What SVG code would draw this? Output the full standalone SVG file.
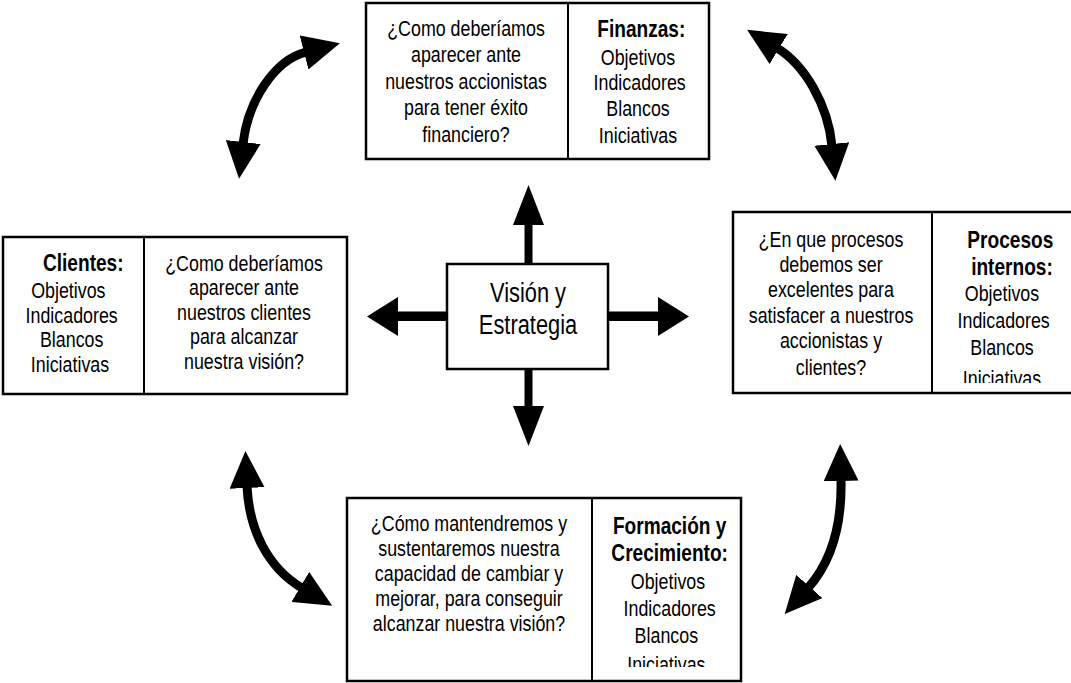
<svg xmlns="http://www.w3.org/2000/svg" width="1071" height="683" viewBox="0 0 1071 683">
  <style>
    .box { fill: #ffffff; stroke: #000000; stroke-width: 2.5; }
    .div { stroke: #000000; stroke-width: 2; }
    .t { font-family: "Liberation Sans", Arial, Helvetica, sans-serif; font-size: 21.5px; fill: #000000; text-anchor: middle; }
    .h { font-family: "Liberation Sans", Arial, Helvetica, sans-serif; font-size: 23px; font-weight: bold; fill: #000000; text-anchor: middle; }
    .c { font-family: "Liberation Sans", Arial, Helvetica, sans-serif; font-size: 28px; fill: #000000; text-anchor: middle; }
    .curve { fill: none; stroke: #000000; stroke-width: 9; stroke-linecap: butt; }
    .shaft { stroke: #000000; stroke-width: 8; }
    .head { fill: #000000; }
  </style>
  <defs>
    <marker id="tip" markerUnits="userSpaceOnUse" viewBox="0 0 37 35" markerWidth="37" markerHeight="35" refX="2" refY="17.5" orient="auto-start-reverse">
      <path d="M0,0 L37,17.5 L0,35 Z" fill="#000000"/>
    </marker>
    <clipPath id="clipProc"><rect x="933" y="214" width="140" height="169"/></clipPath>
    <clipPath id="clipForm"><rect x="593" y="499" width="150" height="168"/></clipPath>
  </defs>

  <!-- curved two-way arrows between the four perspectives -->
  <g id="connectors">
    <path class="curve" d="M243,144 C248,100 275,60 306,52" marker-start="url(#tip)" marker-end="url(#tip)"/>
    <path class="curve" d="M777,48 C805,65 828,105 832,146" marker-start="url(#tip)" marker-end="url(#tip)"/>
    <path class="curve" d="M247,486 C249,530 268,568 302,588" marker-start="url(#tip)" marker-end="url(#tip)"/>
    <path class="curve" d="M841,479 C842,520 833,560 808,588" marker-start="url(#tip)" marker-end="url(#tip)"/>

    <!-- straight arrows out of the centre box -->
    <line class="shaft" x1="528.5" y1="264" x2="528.5" y2="222"/>
    <polygon class="head" points="513,225 544,225 528.5,185"/>
    <line class="shaft" x1="528.5" y1="369" x2="528.5" y2="410"/>
    <polygon class="head" points="513,406 544,406 528.5,446"/>
    <rect class="head" x="395" y="311.5" width="53" height="9.5"/>
    <polygon class="head" points="398,297 398,336 367,316.5"/>
    <rect class="head" x="608" y="311.5" width="53" height="9.5"/>
    <polygon class="head" points="658,297 658,336 689,316.5"/>
  </g>

  <!-- Finanzas -->
  <g id="finanzas">
    <rect class="box" x="366" y="3" width="343" height="156"/>
    <line class="div" x1="568" y1="3" x2="568" y2="159"/>
    <g transform="translate(466 0) scale(0.83 1)">
      <text class="t" x="0" y="36">¿Como deberíamos</text>
      <text class="t" x="0" y="62.5">aparecer ante</text>
      <text class="t" x="0" y="89">nuestros accionistas</text>
      <text class="t" x="0" y="115.5">para tener éxito</text>
      <text class="t" x="0" y="142">financiero?</text>
    </g>
    <g transform="translate(638 0) scale(0.83 1)">
      <text class="h" x="4" y="37">Finanzas:</text>
      <text class="t" x="0" y="65">Objetivos</text>
      <text class="t" x="2" y="90">Indicadores</text>
      <text class="t" x="0" y="116">Blancos</text>
      <text class="t" x="0" y="143">Iniciativas</text>
    </g>
  </g>

  <!-- Clientes -->
  <g id="clientes">
    <rect class="box" x="3" y="237" width="344" height="157"/>
    <line class="div" x1="144" y1="237" x2="144" y2="394"/>
    <g transform="translate(70 0) scale(0.83 1)">
      <text class="h" x="16" y="271">Clientes:</text>
      <text class="t" x="-2" y="298">Objetivos</text>
      <text class="t" x="2" y="323">Indicadores</text>
      <text class="t" x="2" y="347">Blancos</text>
      <text class="t" x="0" y="372">Iniciativas</text>
    </g>
    <g transform="translate(244 0) scale(0.83 1)">
      <text class="t" x="0" y="271">¿Como deberíamos</text>
      <text class="t" x="0" y="295.5">aparecer ante</text>
      <text class="t" x="0" y="320">nuestros clientes</text>
      <text class="t" x="0" y="344.5">para alcanzar</text>
      <text class="t" x="0" y="369">nuestra visión?</text>
    </g>
  </g>

  <!-- Procesos internos -->
  <g id="procesos">
    <rect class="box" x="733" y="212" width="345" height="181"/>
    <line class="div" x1="932" y1="212" x2="932" y2="393"/>
    <g transform="translate(831 0) scale(0.83 1)">
      <text class="t" x="0" y="247">¿En que procesos</text>
      <text class="t" x="0" y="272">debemos ser</text>
      <text class="t" x="0" y="297">excelentes para</text>
      <text class="t" x="0" y="323">satisfacer a nuestros</text>
      <text class="t" x="0" y="348">accionistas y</text>
      <text class="t" x="0" y="375">clientes?</text>
    </g>
    <g clip-path="url(#clipProc)">
      <g transform="translate(1002 0) scale(0.83 1)">
        <text class="h" x="10" y="248">Procesos</text>
        <text class="h" x="12" y="275">internos:</text>
        <text class="t" x="0" y="301">Objetivos</text>
        <text class="t" x="2" y="328">Indicadores</text>
        <text class="t" x="0" y="355">Blancos</text>
        <text class="t" x="0" y="386">Iniciativas</text>
      </g>
    </g>
  </g>

  <!-- Formación y Crecimiento -->
  <g id="formacion">
    <rect class="box" x="347" y="498" width="394" height="183"/>
    <line class="div" x1="592" y1="498" x2="592" y2="681"/>
    <g transform="translate(469 0) scale(0.83 1)">
      <text class="t" x="0" y="531">¿Cómo mantendremos y</text>
      <text class="t" x="0" y="556">sustentaremos nuestra</text>
      <text class="t" x="0" y="581">capacidad de cambiar y</text>
      <text class="t" x="0" y="606">mejorar, para conseguir</text>
      <text class="t" x="0" y="631">alcanzar nuestra visión?</text>
    </g>
    <g clip-path="url(#clipForm)">
      <g transform="translate(668 0) scale(0.83 1)">
        <text class="h" x="2" y="534">Formación y</text>
        <text class="h" x="2" y="561">Crecimiento:</text>
        <text class="t" x="0" y="589">Objetivos</text>
        <text class="t" x="2" y="616">Indicadores</text>
        <text class="t" x="-2" y="643">Blancos</text>
        <text class="t" x="-2" y="672">Iniciativas</text>
      </g>
    </g>
  </g>

  <!-- Visión y Estrategia -->
  <g id="vision">
    <rect class="box" x="447" y="264" width="161" height="105"/>
    <g transform="translate(528 0) scale(0.78 1)">
      <text class="c" x="0" y="302">Visión y</text>
      <text class="c" x="0" y="334">Estrategia</text>
    </g>
  </g>
</svg>
